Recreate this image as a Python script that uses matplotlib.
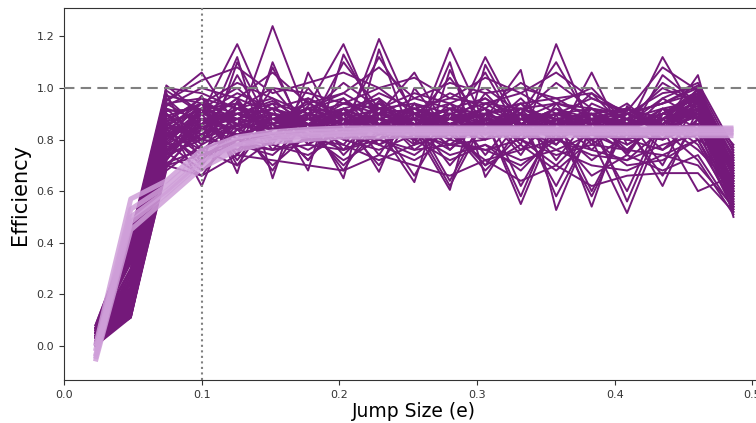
import numpy as np
import matplotlib
matplotlib.use("Agg")
import matplotlib.pyplot as plt

# jump sizes (shared x positions of every run)
jump_sizes = [0.0228, 0.0485, 0.0743, 0.1000, 0.1258, 0.1515, 0.1773, 0.2030,
              0.2288, 0.2545, 0.2803, 0.3060, 0.3318, 0.3575, 0.3833, 0.4090,
              0.4348, 0.4605, 0.4863]

# efficiency of the individual runs
run_01 = [0.05, 0.30, 0.95, 1.06, 0.85, 1.24, 0.88, 0.92, 0.86, 0.90, 0.84, 0.88, 0.80, 0.86, 0.82, 0.80, 0.88, 0.92, 0.70]
run_02 = [0.03, 0.25, 1.01, 0.90, 1.17, 0.86, 0.95, 0.82, 1.19, 0.88, 0.85, 0.92, 0.78, 1.17, 0.84, 0.75, 0.90, 0.98, 0.65]
run_03 = [0.06, 0.40, 0.88, 0.62, 0.95, 0.80, 0.93, 1.17, 0.85, 0.80, 1.155, 0.86, 0.90, 0.82, 0.88, 0.84, 1.12, 0.88, 0.60]
run_04 = [0.02, 0.18, 0.82, 0.97, 0.67, 1.10, 0.78, 0.86, 0.90, 1.06, 0.82, 1.12, 0.86, 0.80, 1.06, 0.78, 0.85, 1.05, 0.55]
run_05 = [0.07, 0.35, 0.92, 0.80, 1.12, 0.65, 1.06, 0.80, 0.95, 0.82, 0.78, 0.88, 1.07, 0.527, 0.86, 0.82, 0.92, 0.80, 0.72]
run_06 = [0.01, 0.14, 0.76, 0.85, 0.88, 0.92, 0.68, 1.13, 0.88, 0.84, 0.605, 1.09, 0.84, 0.90, 0.54, 0.93, 0.80, 0.95, 0.50]
run_07 = [0.04, 0.28, 0.98, 0.70, 1.10, 0.84, 0.90, 0.65, 1.15, 0.78, 1.10, 0.655, 0.86, 0.92, 0.80, 0.515, 0.86, 0.90, 0.58]
run_08 = [0.05, 0.22, 0.86, 0.92, 0.80, 1.00, 0.84, 0.90, 0.675, 1.00, 0.82, 0.88, 0.55, 0.88, 0.90, 0.86, 0.62, 0.92, 0.62]
run_09 = [0.00, 0.12, 0.80, 0.88, 0.90, 0.86, 0.94, 0.88, 0.84, 0.635, 1.07, 0.82, 0.88, 0.84, 0.82, 0.88, 0.84, 0.60, 0.66]
run_10 = [0.08, 0.44, 0.94, 0.96, 0.86, 0.90, 0.84, 1.10, 0.92, 0.86, 0.88, 1.06, 0.82, 0.86, 0.84, 0.80, 1.05, 0.94, 0.78]
run_11 = [0.03, 0.20, 0.90, 0.78, 1.05, 0.82, 0.88, 0.86, 1.12, 0.90, 0.84, 0.80, 0.90, 1.10, 0.86, 0.84, 0.82, 0.97, 0.68]
run_12 = [0.06, 0.32, 0.84, 0.92, 0.74, 1.08, 0.80, 0.92, 0.86, 0.88, 1.04, 0.86, 0.84, 0.78, 0.92, 0.82, 0.96, 0.88, 0.64]
run_13 = [0.02, 0.16, 0.78, 0.86, 0.96, 0.78, 1.00, 0.84, 0.80, 0.94, 0.86, 0.92, 0.80, 0.88, 0.76, 0.90, 0.84, 1.00, 0.56]
run_14 = [0.05, 0.38, 0.96, 0.84, 0.90, 0.95, 0.86, 0.78, 0.94, 0.84, 0.90, 0.84, 0.96, 0.82, 0.88, 0.76, 0.88, 0.92, 0.74]
run_15 = [0.04, 0.26, 0.88, 0.94, 0.84, 0.88, 0.92, 0.96, 0.82, 0.90, 0.80, 0.94, 0.86, 0.92, 0.84, 0.86, 0.80, 0.86, 0.60]
run_16 = [0.01, 0.13, 0.74, 0.80, 0.78, 0.74, 0.86, 0.80, 0.76, 0.82, 0.74, 0.78, 0.72, 0.76, 0.70, 0.68, 0.74, 0.70, 0.54]
run_17 = [0.07, 0.42, 0.99, 0.90, 0.98, 0.92, 0.96, 0.90, 0.98, 0.92, 0.96, 0.94, 0.98, 0.90, 0.96, 0.90, 0.94, 0.98, 0.70]
run_18 = [0.03, 0.24, 0.84, 0.74, 0.80, 0.78, 0.74, 0.82, 0.78, 0.72, 0.80, 0.76, 0.70, 0.80, 0.74, 0.72, 0.78, 0.82, 0.58]
run_19 = [0.05, 0.30, 0.92, 0.88, 0.82, 0.86, 0.80, 0.88, 0.84, 0.86, 0.82, 0.84, 0.88, 0.84, 0.80, 0.86, 0.82, 0.90, 0.66]
run_20 = [0.02, 0.19, 0.80, 0.92, 0.94, 0.76, 0.90, 0.74, 0.88, 0.78, 0.92, 0.74, 0.90, 0.72, 0.90, 0.74, 0.92, 0.84, 0.52]
run_21 = [0.06, 0.36, 0.90, 0.76, 0.86, 0.94, 0.78, 0.92, 0.74, 0.94, 0.76, 0.90, 0.74, 0.94, 0.78, 0.88, 0.70, 0.96, 0.76]
run_22 = [0.04, 0.27, 0.86, 0.82, 0.76, 0.84, 0.92, 0.76, 0.82, 0.88, 0.70, 0.86, 0.80, 0.70, 0.84, 0.78, 0.86, 0.76, 0.62]
run_23 = [0.00, 0.11, 0.72, 0.90, 0.88, 0.80, 0.84, 0.90, 0.96, 0.80, 0.88, 0.82, 0.92, 0.86, 0.98, 0.84, 0.90, 0.88, 0.68]
run_24 = [0.07, 0.41, 0.97, 0.94, 1.02, 0.96, 0.90, 1.02, 0.92, 0.98, 0.94, 1.00, 0.90, 1.02, 0.92, 0.88, 1.00, 0.94, 0.74]
run_25 = [0.03, 0.21, 0.82, 0.72, 0.84, 0.70, 0.82, 0.72, 0.80, 0.74, 0.84, 0.70, 0.78, 0.68, 0.80, 0.70, 0.72, 0.80, 0.57]
run_26 = [0.05, 0.33, 0.94, 0.86, 0.92, 0.88, 0.84, 0.96, 0.86, 0.82, 0.90, 0.84, 0.94, 0.80, 0.86, 0.92, 0.84, 0.92, 0.71]
run_27 = [0.02, 0.15, 0.78, 0.80, 0.86, 0.82, 0.76, 0.84, 0.80, 0.86, 0.78, 0.80, 0.84, 0.76, 0.82, 0.80, 0.76, 0.84, 0.63]
run_28 = [0.06, 0.39, 0.93, 1.00, 0.96, 1.06, 0.94, 0.98, 1.08, 0.96, 1.02, 0.98, 1.00, 0.96, 0.98, 0.90, 0.98, 1.00, 0.69]
run_29 = [0.04, 0.23, 0.87, 0.90, 0.72, 0.90, 0.86, 0.82, 0.90, 0.76, 0.86, 0.90, 0.76, 0.88, 0.82, 0.76, 0.88, 0.78, 0.55]
run_30 = [0.01, 0.17, 0.76, 0.84, 0.82, 0.86, 0.72, 0.88, 0.78, 0.84, 0.76, 0.88, 0.82, 0.84, 0.72, 0.82, 0.80, 0.86, 0.60]
run_31 = [0.08, 0.43, 1.00, 0.98, 0.92, 1.00, 0.98, 0.94, 1.00, 0.90, 0.98, 0.92, 1.02, 0.94, 1.00, 0.86, 0.96, 1.02, 0.77]
run_32 = [0.03, 0.20, 0.83, 0.76, 0.70, 0.80, 0.84, 0.70, 0.84, 0.80, 0.72, 0.78, 0.68, 0.82, 0.66, 0.74, 0.68, 0.74, 0.53]
run_33 = [0.05, 0.29, 0.89, 0.94, 0.88, 0.92, 0.88, 0.86, 0.90, 0.92, 0.88, 0.96, 0.86, 0.90, 0.92, 0.84, 0.92, 0.90, 0.67]
run_34 = [0.02, 0.14, 0.79, 0.68, 0.80, 0.76, 0.80, 0.78, 0.72, 0.78, 0.82, 0.72, 0.76, 0.80, 0.76, 0.72, 0.84, 0.72, 0.51]
run_35 = [0.06, 0.37, 0.91, 0.92, 1.00, 0.88, 0.92, 0.98, 0.90, 0.96, 0.92, 0.90, 0.94, 0.96, 0.88, 0.92, 0.86, 0.96, 0.73]
run_36 = [0.04, 0.25, 0.85, 0.80, 0.92, 0.84, 0.88, 0.80, 0.86, 0.90, 0.84, 0.86, 0.82, 0.86, 0.90, 0.80, 0.84, 0.94, 0.61]
run_37 = [0.01, 0.12, 0.75, 0.66, 0.74, 0.72, 0.70, 0.68, 0.74, 0.70, 0.66, 0.72, 0.64, 0.70, 0.62, 0.66, 0.67, 0.67, 0.52]
run_38 = [0.07, 0.40, 0.95, 1.03, 1.08, 0.98, 1.02, 1.06, 1.00, 1.04, 0.96, 1.04, 0.98, 1.06, 0.96, 0.91, 1.08, 0.99, 0.72]
run_39 = [0.03, 0.22, 0.81, 0.88, 0.78, 0.90, 0.82, 0.76, 0.92, 0.82, 0.94, 0.80, 0.92, 0.78, 0.94, 0.88, 0.76, 0.88, 0.64]
run_40 = [0.05, 0.34, 0.90, 0.82, 0.94, 0.80, 0.96, 0.88, 0.78, 0.86, 0.80, 0.98, 0.84, 0.82, 0.86, 0.94, 0.82, 0.84, 0.69]
run_41 = [0.04, 0.13, 0.70, 0.84, 0.92, 0.86, 0.90, 0.84, 0.88, 0.92, 0.86, 0.84, 0.90, 0.86, 0.88, 0.84, 0.90, 0.96, 0.66]
run_42 = [0.02, 0.12, 0.68, 0.78, 0.86, 0.90, 0.84, 0.88, 0.82, 0.86, 0.90, 0.88, 0.84, 0.90, 0.84, 0.86, 0.88, 0.93, 0.59]
run_43 = [0.05, 0.15, 0.74, 0.88, 0.84, 0.80, 0.88, 0.92, 0.86, 0.84, 0.88, 0.92, 0.62, 0.86, 0.90, 0.82, 0.86, 0.98, 0.62]
run_44 = [0.03, 0.11, 0.72, 0.92, 0.80, 0.88, 0.92, 0.86, 0.90, 0.88, 0.84, 0.86, 0.90, 0.58, 0.84, 0.88, 0.84, 0.90, 0.54]
run_45 = [0.06, 0.16, 0.77, 0.82, 0.90, 0.84, 0.86, 0.90, 0.84, 0.92, 0.86, 0.90, 0.84, 0.88, 0.60, 0.86, 0.90, 0.94, 0.68]
run_46 = [0.01, 0.14, 0.75, 0.86, 0.88, 0.92, 0.86, 0.84, 0.88, 0.86, 0.62, 0.88, 0.86, 0.84, 0.88, 0.56, 0.88, 0.92, 0.56]
run_47 = [0.04, 0.18, 0.80, 0.90, 0.86, 0.84, 0.90, 0.88, 0.92, 0.90, 0.86, 0.70, 0.88, 0.90, 0.86, 0.84, 0.66, 0.88, 0.60]
run_48 = [0.02, 0.12, 0.70, 0.66, 0.84, 0.88, 0.82, 0.86, 0.84, 0.88, 0.82, 0.86, 0.88, 0.82, 0.86, 0.88, 0.84, 0.86, 0.57]
run_49 = [0.07, 0.20, 0.85, 0.94, 0.70, 0.90, 0.88, 0.92, 0.86, 0.90, 0.88, 0.84, 0.92, 0.88, 0.90, 0.86, 0.90, 0.99, 0.70]
run_50 = [0.03, 0.13, 0.73, 0.82, 0.86, 0.68, 0.90, 0.86, 0.88, 0.84, 0.90, 0.86, 0.82, 0.88, 0.84, 0.90, 0.86, 0.91, 0.63]
run_51 = [0.05, 0.17, 0.78, 0.92, 0.88, 0.86, 0.72, 0.90, 0.84, 0.88, 0.86, 0.92, 0.86, 0.84, 0.90, 0.84, 0.88, 0.97, 0.65]
run_52 = [0.02, 0.11, 0.69, 0.86, 0.90, 0.88, 0.86, 0.68, 0.90, 0.86, 0.84, 0.88, 0.90, 0.86, 0.88, 0.90, 0.84, 0.89, 0.55]
run_53 = [0.06, 0.19, 0.82, 0.88, 0.84, 0.92, 0.88, 0.86, 0.70, 0.90, 0.88, 0.86, 0.84, 0.92, 0.86, 0.88, 0.92, 0.95, 0.71]
run_54 = [0.03, 0.15, 0.76, 0.84, 0.90, 0.86, 0.92, 0.88, 0.86, 0.66, 0.90, 0.84, 0.88, 0.86, 0.90, 0.82, 0.86, 0.92, 0.58]
run_55 = [0.04, 0.22, 0.87, 0.96, 0.92, 0.90, 0.86, 0.94, 0.90, 0.88, 0.64, 0.90, 0.92, 0.88, 0.86, 0.90, 0.94, 1.00, 0.73]
run_56 = [0.01, 0.12, 0.71, 0.76, 0.82, 0.80, 0.84, 0.82, 0.86, 0.82, 0.84, 0.68, 0.82, 0.86, 0.80, 0.84, 0.82, 0.86, 0.54]
run_57 = [0.05, 0.14, 0.79, 0.90, 0.94, 0.86, 0.88, 0.90, 0.94, 0.86, 0.92, 0.88, 0.58, 0.90, 0.88, 0.86, 0.90, 0.96, 0.66]
run_58 = [0.02, 0.16, 0.74, 0.80, 0.88, 0.92, 0.86, 0.90, 0.88, 0.92, 0.88, 0.90, 0.86, 0.62, 0.88, 0.92, 0.88, 0.93, 0.61]
run_59 = [0.06, 0.21, 0.83, 0.70, 0.86, 0.84, 0.88, 0.84, 0.90, 0.84, 0.86, 0.84, 0.88, 0.84, 0.58, 0.86, 0.88, 0.90, 0.64]
run_60 = [0.03, 0.13, 0.72, 0.88, 0.74, 0.90, 0.84, 0.88, 0.84, 0.88, 0.92, 0.86, 0.90, 0.88, 0.84, 0.60, 0.90, 0.97, 0.59]
run_61 = [0.04, 0.17, 0.81, 0.94, 0.90, 0.94, 0.90, 0.94, 0.92, 0.94, 0.90, 0.94, 0.92, 0.94, 0.92, 0.90, 0.94, 1.01, 0.75]
run_62 = [0.02, 0.12, 0.70, 0.74, 0.78, 0.76, 0.78, 0.76, 0.80, 0.76, 0.78, 0.76, 0.80, 0.74, 0.78, 0.76, 0.74, 0.80, 0.53]
run_63 = [0.05, 0.18, 0.84, 0.86, 0.96, 0.90, 0.88, 0.86, 0.92, 0.90, 0.94, 0.88, 0.86, 0.92, 0.88, 0.86, 1.02, 0.94, 0.67]
run_64 = [0.03, 0.14, 0.75, 0.92, 0.86, 0.84, 0.92, 0.90, 0.86, 0.92, 0.86, 0.90, 0.94, 0.86, 0.92, 0.88, 0.86, 0.95, 0.62]
run_65 = [0.06, 0.20, 0.86, 0.80, 0.92, 0.96, 0.84, 0.92, 0.96, 0.86, 0.92, 0.96, 0.88, 0.94, 0.90, 0.92, 0.88, 0.98, 0.70]

runs = [run_01, run_02, run_03, run_04, run_05, run_06, run_07, run_08, run_09, run_10,
        run_11, run_12, run_13, run_14, run_15, run_16, run_17, run_18, run_19, run_20,
        run_21, run_22, run_23, run_24, run_25, run_26, run_27, run_28, run_29, run_30,
        run_31, run_32, run_33, run_34, run_35, run_36, run_37, run_38, run_39, run_40,
        run_41, run_42, run_43, run_44, run_45, run_46, run_47, run_48, run_49, run_50,
        run_51, run_52, run_53, run_54, run_55, run_56, run_57, run_58, run_59, run_60,
        run_61, run_62, run_63, run_64, run_65]

# smooth (model) curves drawn as the light band
model_a = [-0.06, 0.45, 0.57, 0.69, 0.76, 0.79, 0.80, 0.81, 0.81, 0.815, 0.815, 0.815, 0.815, 0.815, 0.815, 0.815, 0.815, 0.815, 0.815]
model_b = [-0.04, 0.50, 0.60, 0.72, 0.78, 0.81, 0.82, 0.825, 0.83, 0.83, 0.83, 0.83, 0.83, 0.83, 0.83, 0.83, 0.83, 0.83, 0.83]
model_c = [-0.02, 0.53, 0.62, 0.74, 0.80, 0.82, 0.83, 0.835, 0.84, 0.84, 0.84, 0.84, 0.84, 0.84, 0.84, 0.84, 0.84, 0.84, 0.84]
model_d = [0.00, 0.57, 0.64, 0.76, 0.81, 0.83, 0.84, 0.845, 0.845, 0.845, 0.845, 0.845, 0.845, 0.845, 0.845, 0.845, 0.845, 0.845, 0.845]
model_e = [-0.05, 0.48, 0.59, 0.71, 0.78, 0.80, 0.815, 0.82, 0.825, 0.825, 0.825, 0.825, 0.825, 0.825, 0.825, 0.825, 0.825, 0.825, 0.825]
models = [model_a, model_b, model_c, model_d, model_e]

x_ticks = [0.0, 0.1, 0.2, 0.3, 0.4, 0.5]
y_ticks = [0.0, 0.2, 0.4, 0.6, 0.8, 1.0, 1.2]


def main():
    fig = plt.figure(figsize=(7.56, 4.23), dpi=100)
    ax = fig.add_axes([0.0847, 0.1017, 0.925, 0.8793])

    for run in runs:
        ax.plot(jump_sizes, run, color="#74197a", lw=1.4)
    for model in models:
        ax.plot(jump_sizes, model, color="#cf9fd9", lw=3.6, alpha=0.85,
                solid_capstyle="butt")

    ax.axhline(1.0, color="grey", ls="--", lw=1.5, dashes=(5, 3), zorder=5)
    ax.axvline(0.1, color="grey", ls=":", lw=1.5, zorder=5)

    ax.set_xlim(0, 0.508)
    ax.set_ylim(-0.132, 1.31)
    ax.set_xticks(x_ticks)
    ax.set_yticks(y_ticks)
    ax.set_xticklabels([f"{t:.1f}" for t in x_ticks])
    ax.set_yticklabels([f"{t:.1f}" for t in y_ticks])
    ax.tick_params(labelsize=8, colors="#333333", length=3.5)
    for s in ax.spines.values():
        s.set_color("#333333")

    ax.set_xlabel("Jump Size (e)", fontsize=13.5, labelpad=2)
    ax.set_ylabel("Efficiency", fontsize=15, labelpad=5)

    fig.savefig("out.png", dpi=100)


if __name__ == "__main__":
    main()
